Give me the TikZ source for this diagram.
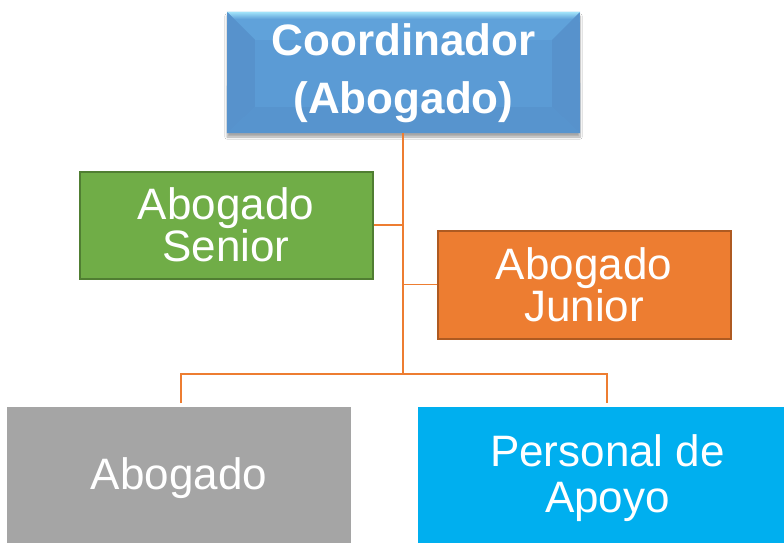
\documentclass[tikz,border=0pt]{standalone}
\usepackage{fontspec}
\setmainfont{Liberation Sans}
\usetikzlibrary{shadows.blur}
\definecolor{topblue}{HTML}{5B9BD5}
\definecolor{toplight}{HTML}{A2E4FA}
\definecolor{topupper}{HTML}{60A2DA}
\definecolor{topside}{HTML}{5792CC}
\definecolor{topbot}{HTML}{5794CE}
\definecolor{sgreen}{HTML}{70AD47}
\definecolor{sgreenb}{HTML}{507E32}
\definecolor{jorange}{HTML}{ED7D31}
\definecolor{jorangeb}{HTML}{AE5A21}
\definecolor{agray}{HTML}{A5A5A5}
\definecolor{pcyan}{HTML}{00AFEF}
\definecolor{lineor}{HTML}{ED7D31}
\tikzset{
  box/.style={rectangle, inner sep=0pt, text=white, align=center},
  conn/.style={draw=lineor, line width=1.4pt},
  midtext/.style={font=\fontsize{44}{40}\selectfont},
  lowtext/.style={font=\fontsize{44}{46}\selectfont},
}
\begin{document}
\begin{tikzpicture}[x=1pt,y=-1pt]
\useasboundingbox (0,0) rectangle (784,543);
\clip (0,0) rectangle (784,543);
\fill[white] (0,0) rectangle (784,543);
% coordinator
\node[box, fill=topblue, minimum width=353pt, minimum height=121pt,
  blur shadow={shadow xshift=0pt, shadow yshift=-4pt, shadow blur steps=6, shadow opacity=35}]
  (coord) at (403.5,72.5) {};
\fill[topupper]
  (coord.north west) -- (coord.north east) -- ([xshift=-28pt,yshift=-28pt]coord.north east) -- ([xshift=28pt,yshift=-28pt]coord.north west) -- cycle;
\shade[top color=toplight, bottom color=topupper]
  (coord.north west) -- (coord.north east) -- ([xshift=-7pt,yshift=-7pt]coord.north east) -- ([xshift=7pt,yshift=-7pt]coord.north west) -- cycle;
\fill[topside] ([xshift=0.5pt,yshift=-0.5pt]coord.north west) -- ([xshift=28pt,yshift=-28pt]coord.north west) -- ([xshift=28pt,yshift=26pt]coord.south west) -- (coord.south west) -- cycle;
\fill[topside] ([xshift=-0.5pt,yshift=-0.5pt]coord.north east) -- ([xshift=-28pt,yshift=-28pt]coord.north east) -- ([xshift=-28pt,yshift=26pt]coord.south east) -- (coord.south east) -- cycle;
\fill[topbot] (coord.south west) -- ([xshift=28pt,yshift=26pt]coord.south west) -- ([xshift=-28pt,yshift=26pt]coord.south east) -- (coord.south east) -- cycle;
\node[box, font=\fontsize{44}{58}\selectfont\bfseries] (coordT) at (403.5,73) {Coordinador\\(Abogado)};
% second level
\node[box, midtext, fill=sgreen, draw=sgreenb, line width=2pt, minimum width=293pt, minimum height=107pt] (senior) at (226,225) {Abogado\\Senior};
\node[box, midtext, fill=jorange, draw=jorangeb, line width=2pt, minimum width=293pt, minimum height=108pt] (junior) at (584,284.5) {Abogado\\Junior};
% bottom
\node[box, lowtext, fill=agray, minimum width=344pt, minimum height=142pt] (abog) at (179,478) {Abogado};
\node[box, lowtext, fill=pcyan, minimum width=379pt, minimum height=142pt] (apoyo) at (607.5,478) {Personal de\\Apoyo};
% connectors
\coordinate (hub) at (403,374);
\coordinate (dropL) at (181,403);
\coordinate (dropR) at (607,403);
\draw[conn] (coord.south -| hub) -- (hub);
\draw[conn] (senior.east) -- (senior.east -| hub);
\draw[conn] (junior.west) -- (junior.west -| hub);
\draw[conn] (dropL) |- (hub) -| (dropR);
\end{tikzpicture}
\end{document}
